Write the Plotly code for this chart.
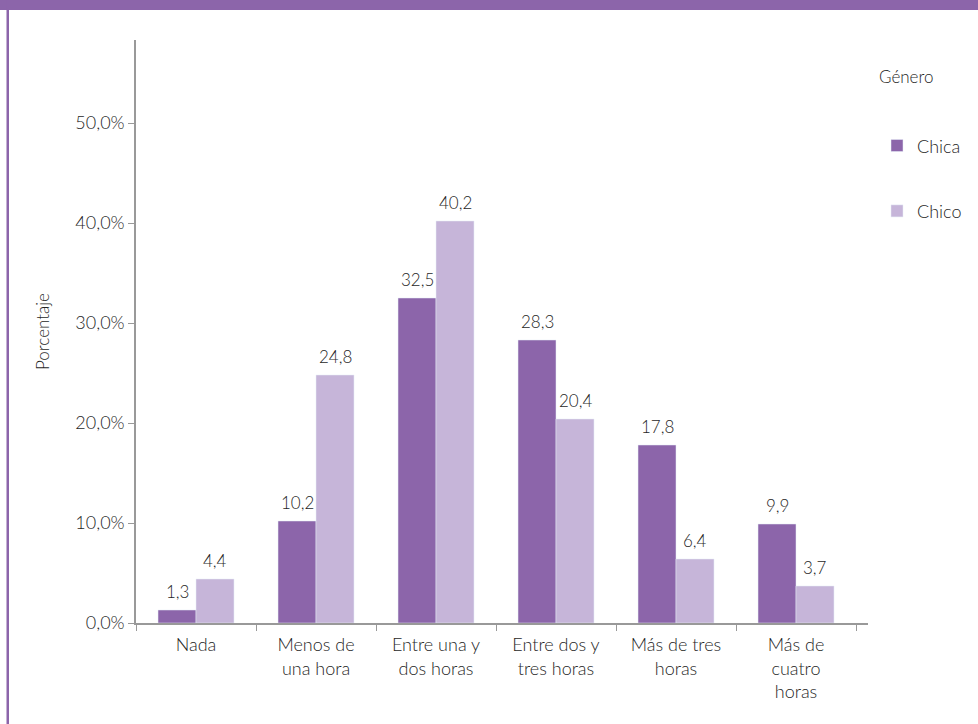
import plotly.graph_objects as go

categories = ["Nada", "Menos de<br>una hora", "Entre una y<br>dos horas",
              "Entre dos y<br>tres horas", "Más de tres<br>horas", "Más de<br>cuatro<br>horas"]
chica = [1.3, 10.2, 32.5, 28.3, 17.8, 9.9]
chico = [4.4, 24.8, 40.2, 20.4, 6.4, 3.7]
y_ticks = [0, 10, 20, 30, 40, 50]
y_tick_text = ["0,0%", "10,0%", "20,0%", "30,0%", "40,0%", "50,0%"]

C_DARK = "#8C65AA"
C_LIGHT = "#C6B5D9"
TXT = "#1f1f1f"
FONT = "Lato"
WEIGHT = 300
FS = 18

W, H = 978, 724
L, R, T, B = 136, 110, 40, 101
pw, ph = W - L - R, H - T - B

def px_x(p):
    return (p - L) / pw

def px_y(p):
    return (H - B - p) / ph

fig = go.Figure()
fig.add_trace(go.Bar(x=categories, y=chica, name="Chica", marker_color=C_DARK,
                     legendgroup="a", hoverinfo="skip"))
fig.add_trace(go.Bar(x=categories, y=chico, name="Chico", marker_color=C_LIGHT,
                     legendgroup="b", hoverinfo="skip"))

annotations = []
for series, shift in ((chica, -19), (chico, 19)):
    for cat, v in zip(categories, series):
        annotations.append(dict(
            x=cat, y=v, xref="x", yref="y", xshift=shift, yshift=6,
            yanchor="bottom", showarrow=False,
            text=f"{v:.1f}".replace(".", ","),
            font=dict(family=FONT, size=17, color=TXT, weight=WEIGHT)))

shapes = [
    dict(type="rect", xref="paper", yref="paper", x0=px_x(-5), x1=px_x(W + 5),
         y0=px_y(10), y1=px_y(-5), fillcolor=C_DARK, line_width=0, layer="above"),
    dict(type="rect", xref="paper", yref="paper", x0=px_x(6.5), x1=px_x(9),
         y0=px_y(H + 5), y1=px_y(0), fillcolor=C_DARK, line_width=0, layer="above"),
]

fig.update_layout(
    width=W, height=H,
    margin=dict(l=L, r=R, t=T, b=B, autoexpand=False),
    paper_bgcolor="white", plot_bgcolor="white",
    separators=",.",
    barmode="group", bargap=0.367, bargroupgap=0,
    font=dict(family=FONT, size=FS, color=TXT, weight=WEIGHT),
    showlegend=True,
    legend=dict(title=dict(text="Género<br> <br> ", font=dict(size=17, color=TXT, weight=WEIGHT)),
                x=px_x(877), xanchor="left", y=px_y(61), yanchor="top",
                tracegroupgap=39, font=dict(size=FS, color=TXT, weight=WEIGHT),
                bgcolor="rgba(0,0,0,0)"),
    annotations=annotations,
    shapes=shapes,
)
fig.update_xaxes(range=[-0.5, 5.6], showline=True, linecolor="#999999", linewidth=1.5,
                 ticks="outside", tickson="boundaries", ticklen=6, tickcolor="#999999",
                 showgrid=False, tickfont=dict(size=FS, color=TXT, weight=WEIGHT),
                 ticklabelstandoff=5, fixedrange=True)
fig.update_yaxes(range=[0, 58.3], tickvals=y_ticks, ticktext=y_tick_text,
                 showline=True, linecolor="#999999", linewidth=1.5,
                 ticks="outside", ticklen=6, tickcolor="#999999",
                 showgrid=False, zeroline=False, tickfont=dict(size=FS, color=TXT, weight=WEIGHT),
                 title=dict(text="Porcentaje", font=dict(size=17, color=TXT, weight=WEIGHT), standoff=21),
                 fixedrange=True)

fig.write_html("out.html", config={"displayModeBar": False},
               post_script="document.body.style.margin='0';")
